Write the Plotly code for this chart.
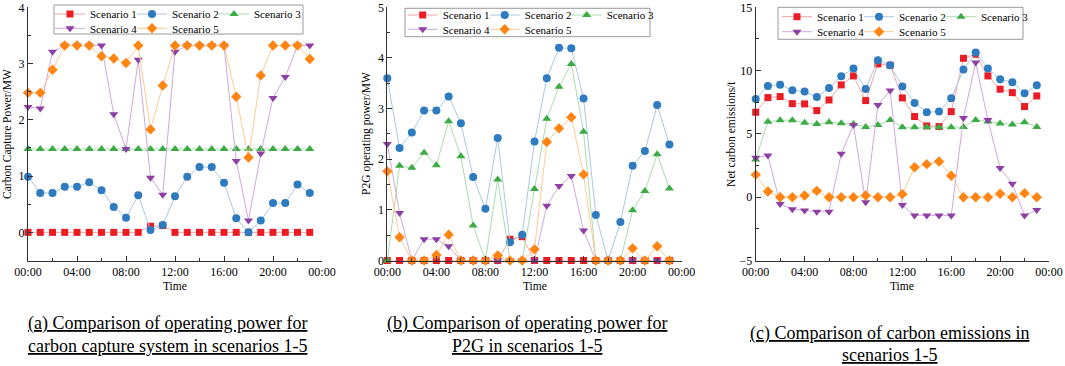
import plotly.graph_objects as go

hours = list(range(24))
tick_vals = [0, 4, 8, 12, 16, 20, 24]
tick_text = ["00:00", "04:00", "08:00", "12:00", "16:00", "20:00", "00:00"]
names = ["Scenario 1", "Scenario 2", "Scenario 3", "Scenario 4", "Scenario 5"]

# (a) Carbon capture power / MW
cc_s1 = [0, 0, 0, 0, 0, 0, 0, 0, 0, 0, 0.11, 0.12, 0, 0, 0, 0, 0, 0, 0, 0, 0, 0, 0, 0]
cc_s2 = [0.99, 0.70, 0.70, 0.81, 0.81, 0.89, 0.75, 0.45, 0.26, 0.66, 0.04, 0.13,
         0.64, 0.99, 1.16, 1.16, 0.88, 0.25, 0.0, 0.21, 0.52, 0.52, 0.85, 0.70]
cc_s3 = [1.48] * 24
cc_s4 = [2.23, 2.20, 3.21, 3.32, 3.32, 3.32, 3.32, 2.10, 1.48, 3.07, 0.97, 0.67,
         3.21, 3.32, 3.32, 3.32, 3.32, 1.27, 0.21, 1.40, 2.39, 2.76, 3.32, 3.32]
cc_s5 = [2.48, 2.48, 2.89, 3.32, 3.32, 3.32, 3.13, 3.09, 3.01, 3.32, 1.83, 2.61,
         3.32, 3.32, 3.32, 3.32, 3.32, 2.41, 1.33, 2.79, 3.32, 3.32, 3.32, 3.08]

# (b) P2G operating power / MW
p2g_s1 = [0, 0, 0, 0, 0, 0, 0, 0, 0, 0, 0.42, 0.47, 0, 0, 0, 0, 0, 0, 0, 0, 0, 0, 0, 0]
p2g_s2 = [3.60, 2.22, 2.53, 2.96, 2.96, 3.24, 2.71, 1.65, 1.02, 2.42, 0.36, 0.51,
          2.35, 3.60, 4.20, 4.19, 3.20, 0.90, 0.0, 0.76, 1.87, 2.16, 3.07, 2.29]
p2g_s3 = [0.0, 1.87, 1.83, 2.13, 1.88, 2.75, 2.06, 0.69, 0.0, 1.60, 0.0, 0.0,
          1.41, 2.80, 3.43, 3.88, 2.54, 0.0, 0.0, 0.0, 0.99, 1.37, 2.10, 1.42]
p2g_s4 = [2.30, 0.94, 0, 0.42, 0.42, 0.28, 0, 0, 0, 0, 0, 0,
          0, 1.08, 1.47, 1.67, 0.59, 0, 0, 0, 0, 0, 0, 0]
p2g_s5 = [1.76, 0.46, 0, 0, 0.11, 0.51, 0, 0, 0, 0.10, 0, 0,
          0.22, 2.34, 2.61, 2.83, 1.70, 0, 0, 0, 0.24, 0, 0.28, 0]

# (c) Net carbon emissions / t
ce_s1 = [6.71, 7.87, 7.95, 7.39, 7.37, 6.84, 7.68, 8.87, 9.58, 7.63, 10.53, 10.42,
         7.84, 6.37, 5.63, 5.58, 6.76, 10.97, 11.29, 9.58, 8.53, 8.26, 7.16, 8.00]
ce_s2 = [7.76, 8.79, 8.89, 8.45, 8.34, 7.92, 8.63, 9.55, 10.16, 8.55, 10.82, 10.42,
         8.74, 7.45, 6.71, 6.76, 7.82, 10.08, 11.42, 10.16, 9.32, 9.08, 8.21, 8.84]
ce_s3 = [2.98, 5.95, 6.08, 6.08, 5.89, 5.79, 5.92, 5.84, 5.79, 5.55, 5.71, 6.10,
         5.53, 5.53, 5.53, 5.53, 5.53, 5.55, 6.10, 5.97, 5.82, 5.74, 5.92, 5.55]
ce_s4 = [3.11, 3.30, -0.53, -0.96, -1.06, -1.14, -1.14, 3.43, 5.71, -0.40, 7.29, 8.42,
         -0.61, -1.44, -1.44, -1.44, -1.44, 6.26, 10.63, 6.10, 2.31, 1.06, -1.44, -1.01]
ce_s5 = [1.78, 0.45, 0, 0, 0.13, 0.50, 0, 0, 0, 0.13, 0, 0,
         0.24, 2.37, 2.61, 2.82, 1.70, 0, 0, 0, 0.27, 0, 0.32, 0]

marker_colors = ["#ec1c24", "#2f7bbf", "#3cab45", "#8e3fa4", "#ff8412"]
line_colors = ["#f5a3a5", "#a9c8e2", "#a9dcae", "#cfa9dc", "#ffc994"]
symbols = ["square", "circle", "triangle-up", "triangle-down", "diamond"]
msizes = [7, 8, 8, 8, 8]
legend_widths = [37, 37, 60, 37, 60]

panels = [
    dict(data=[cc_s1, cc_s2, cc_s3, cc_s4, cc_s5], yr=[-0.5, 4], dt=1, mdt=0.5,
         title="Carbon Capture Power/MW", xd=[28, 322], box=[54, 303, 5, 34],
         sym_x=68, rows=[14, 28.3], tx=8,
         cap=["(a) Comparison of operating power for", "carbon capture system in scenarios 1-5"],
         capx=167.5, capy=[323, 346]),
    dict(data=[p2g_s1, p2g_s2, p2g_s3, p2g_s4, p2g_s5], yr=[0, 5], dt=1, mdt=0.5,
         title="P2G operating power/MW", xd=[387.3, 681.7], box=[405, 650, 8.3, 36.7],
         sym_x=420.7, rows=[15, 29.3], tx=367,
         cap=["(b) Comparison of operating power for", "P2G in scenarios 1-5"],
         capx=527, capy=[323, 346]),
    dict(data=[ce_s1, ce_s2, ce_s3, ce_s4, ce_s5], yr=[-5, 15], dt=5, mdt=2.5,
         title="Net carbon emissions/t", xd=[755.7, 1049], box=[778, 1023, 7.3, 39.3],
         sym_x=795, rows=[16.7, 31.7], tx=731,
         cap=["(c) Comparison of carbon emissions in", "scenarios 1-5"],
         capx=889, capy=[333, 355]),
]

W, H = 1065, 366
def px(x):
    return x / W
def py(y):
    return (H - y) / H

SERIF = "Liberation Serif, Times New Roman, serif"
fig = go.Figure()
layout = dict(template="none", width=W, height=H, margin=dict(l=0, r=0, t=0, b=0, autoexpand=False),
              paper_bgcolor="white", plot_bgcolor="white", showlegend=True,
              font=dict(family=SERIF, size=12, color="black"))
annotations = []
shapes = []
ytop, ybot = 7.3, 260.5

for i, p in enumerate(panels):
    xa = "xaxis" if i == 0 else f"xaxis{i+1}"
    ya = "yaxis" if i == 0 else f"yaxis{i+1}"
    xref = "x" if i == 0 else f"x{i+1}"
    yref = "y" if i == 0 else f"y{i+1}"
    axis_common = dict(showline=True, linecolor="#333", linewidth=1, ticks="inside",
                       ticklen=5, tickcolor="#333", showgrid=False, zeroline=False,
                       automargin=False,
                       tickfont=dict(family=SERIF, size=12, color="black"))
    layout[xa] = dict(domain=[px(p["xd"][0]), px(p["xd"][1])], range=[0, 24],
                      tickmode="array", tickvals=tick_vals, ticktext=tick_text, anchor=yref,
                      minor=dict(tickmode="array", tickvals=[2, 6, 10, 14, 18, 22], ticks="inside",
                                 ticklen=3, tickcolor="#333", showgrid=False),
                      **axis_common)
    layout[ya] = dict(domain=[py(ybot), py(ytop)], range=p["yr"], dtick=p["dt"], tick0=0,
                      anchor=xref,
                      minor=dict(dtick=p["mdt"], ticks="inside", ticklen=3, tickcolor="#333",
                                 showgrid=False),
                      **axis_common)
    l1 = "legend" if i == 0 else f"legend{2*i+1}"
    l2 = f"legend{2*i+2}"
    for k in range(5):
        fig.add_trace(go.Scatter(
            x=hours, y=p["data"][k], name=names[k], mode="lines+markers",
            xaxis=xref, yaxis=yref, legend=(l1 if k < 3 else l2),
            legendwidth=legend_widths[k],
            line=dict(color=line_colors[k], width=1),
            marker=dict(color=marker_colors[k], symbol=symbols[k], size=msizes[k]),
            cliponaxis=False))
    bx0, bx1, by0, by1 = p["box"]
    for j, ln in enumerate([l1, l2]):
        layout[ln] = dict(orientation="h", x=px(p["sym_x"] - 18), y=py(p["rows"][j]),
                          xanchor="left", yanchor="middle", entrywidthmode="pixels",
                          bgcolor="rgba(0,0,0,0)", borderwidth=0, tracegroupgap=0,
                          font=dict(family=SERIF, size=11, color="black"))
    shapes.append(dict(type="rect", xref="paper", yref="paper", x0=px(bx0), x1=px(bx1),
                       y0=py(by1), y1=py(by0), line=dict(color="#9a9a9a", width=1),
                       fillcolor="white", layer="below"))
    annotations.append(dict(text=p["title"], xref="paper", yref="paper", x=px(p["tx"]),
                            y=py((ytop + ybot) / 2), textangle=-90, showarrow=False,
                            xanchor="center", yanchor="middle",
                            font=dict(family=SERIF, size=11.5, color="black")))
    annotations.append(dict(text="Time", xref="paper", yref="paper",
                            x=px((p["xd"][0] + p["xd"][1]) / 2), y=py(286), showarrow=False,
                            xanchor="center", yanchor="middle",
                            font=dict(family=SERIF, size=11.5, color="black")))
    for j, line in enumerate(p["cap"]):
        annotations.append(dict(text=f"<u>{line}</u>", xref="paper", yref="paper",
                                x=px(p["capx"]), y=py(p["capy"][j]), showarrow=False,
                                xanchor="center", yanchor="middle",
                                font=dict(family=SERIF, size=18, color="black")))

layout["annotations"] = annotations
layout["shapes"] = shapes
fig.update_layout(**layout)
fig.write_html("out.html", config={"displayModeBar": False},
               post_script="document.body.style.margin='0px';document.body.style.overflow='hidden';")
